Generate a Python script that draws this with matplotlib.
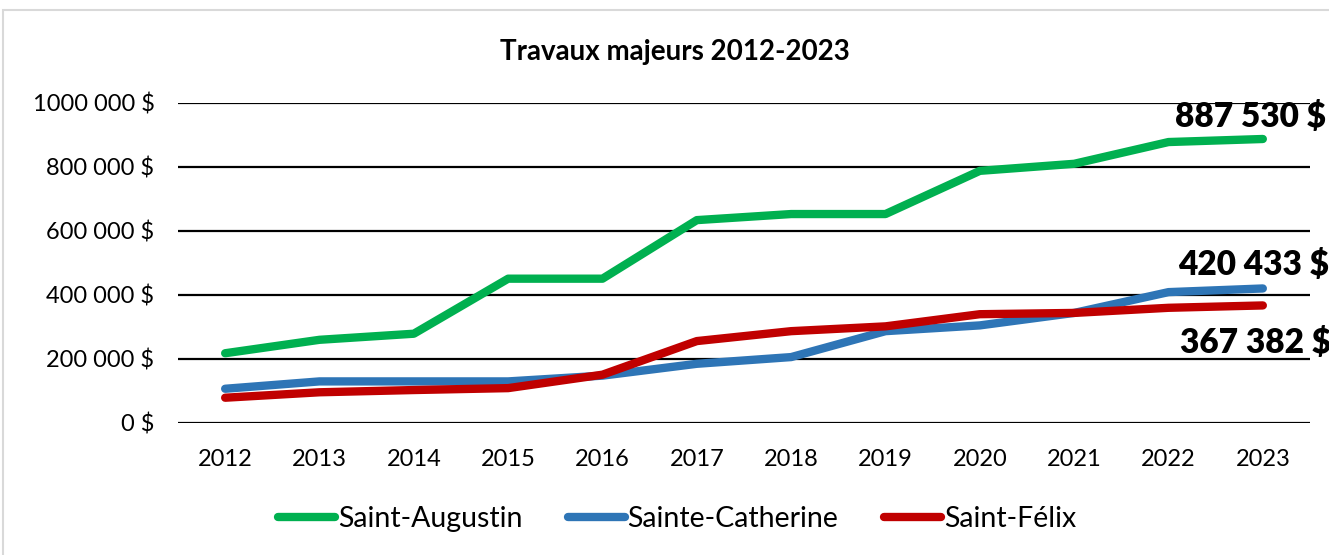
import matplotlib.pyplot as plt
from matplotlib.patches import Rectangle

years = ['2012', '2013', '2014', '2015', '2016', '2017', '2018', '2019', '2020', '2021', '2022', '2023']
saint_augustin = [218000, 260000, 279000, 451000, 451000, 634000, 653000, 653000, 788000, 810000, 878000, 887530]
sainte_catherine = [107000, 130000, 130000, 130000, 148000, 185000, 206000, 287000, 305000, 344000, 409000, 420433]
saint_felix = [79000, 96000, 103000, 109000, 151000, 256000, 287000, 302000, 340000, 344000, 360000, 367382]
y_ticks = [0, 200000, 400000, 600000, 800000, 1000000]
y_tick_labels = ['0 $', '200 000 $', '400 000 $', '600 000 $', '800 000 $', '1000 000 $']
end_labels = ['887 530 $', '420 433 $', '367 382 $']

plt.rcParams['font.family'] = ['Lato', 'DejaVu Sans']

fig = plt.figure(figsize=(13.29, 5.55), dpi=100)
# light frame around the chart
fig.patches.append(Rectangle((3 / 1329, -0.05), 1.2, 1 - 10 / 555 + 0.05, transform=fig.transFigure,
                             fill=False, edgecolor='#d9d9d9', linewidth=1.5))

ax = fig.add_axes([178 / 1329, 1 - 423 / 555, (1310 - 178) / 1329, 320 / 555])

x = list(range(len(years)))
series = [
    (saint_augustin, '#00B050', 'Saint-Augustin'),
    (sainte_catherine, '#2E75B6', 'Sainte-Catherine'),
    (saint_felix, '#C00000', 'Saint-Félix'),
]
for vals, col, name in series:
    ax.plot(x, vals, color=col, linewidth=6, solid_capstyle='round', solid_joinstyle='round', label=name, zorder=3)

ax.set_xlim(-0.5, len(years) - 0.5)
ax.set_ylim(0, 1000000)
ax.set_xticks(x)
ax.set_xticklabels(years, fontsize=17)
ax.set_yticks(y_ticks)
ax.set_yticklabels(y_tick_labels, fontsize=17)
ax.tick_params(length=0)
ax.tick_params(axis='x', pad=19)
ax.tick_params(axis='y', pad=17)
ax.grid(axis='y', color='black', linewidth=1.6, zorder=1)
for s in ax.spines.values():
    s.set_visible(False)

# end-of-line value labels
offsets = [(-12, 22), (-9, 23), (-7, -38)]
for (vals, col, name), lab, off in zip(series, end_labels, offsets):
    ax.annotate(lab, (x[-1], vals[-1]), xytext=off, textcoords='offset pixels',
                ha='center', va='center', fontsize=24, fontweight='heavy', annotation_clip=False)

fig.text(675 / 1329, 1 - 52 / 555, 'Travaux majeurs 2012-2023', ha='center', va='center',
         fontsize=20, fontweight='bold')

fig.legend(loc='center', bbox_to_anchor=(677 / 1329, 1 - 519 / 555), ncol=3, frameon=False,
           fontsize=20.5, handlelength=2.0, handletextpad=0.1, columnspacing=1.6)

fig.savefig('out.png', dpi=100)
